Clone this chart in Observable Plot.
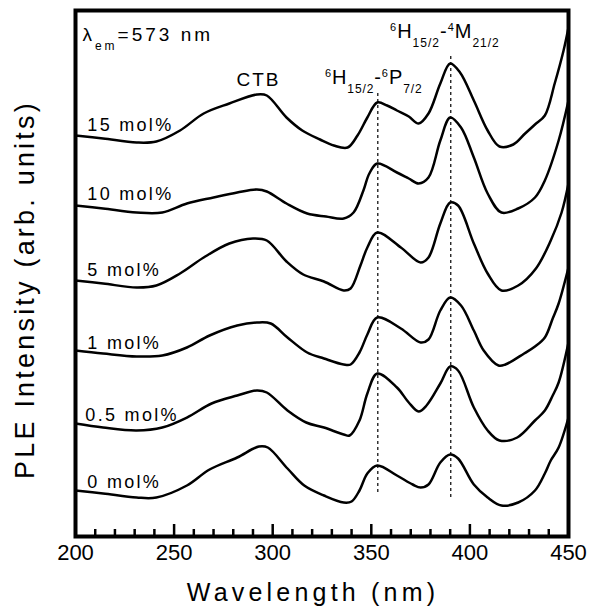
<!DOCTYPE html>
<html><head><meta charset="utf-8">
<script src="https://cdn.jsdelivr.net/npm/d3@7"></script>
<script src="https://cdn.jsdelivr.net/npm/@observablehq/plot@0.6"></script>
<style>
body{margin:0;background:#fff;}
#chart svg{display:block;}
</style></head><body><div id="chart"></div>
<script>
// Wavelength (nm) samples and PLE intensity (arb. units, offset curves)
const wl15 = [200,214,231,241,253,265,278,292,297,307,315,324,331,338,343,348,353,358,363,369,374,379,385,390,395,402,409,415,422,428,433,438,443,447.5,450];
const pl15 = [401,398,394,395,406,423,433,442,441,419,406,397,391,389,401,419,434,431,426,420,413,423,453,473,464,436,406,390,392,403,412,421,453,486,509];
const wl10 = [200,214,231,244,256.5,270,282,292,297,307,317.5,327,336,341,346,349,353,363,369,374,379,385,390,395.5,402,409,416,424.5,433,438,445,450];
const pl10 = [331,328,324,324,333,339,344,347,345,333,323,320,318,324,346,363,373,364,358,353,359,396,419,409,379,343,324,328,339,356,396,436];
const wl5 = [200,214,231,241,253,265,278,290,297,307,315.5,326,336,339.5,344.5,348,353,365,375,379,385,390,394,402,409,416,424.5,433.5,441,446.5,450];
const pl5 = [256,253,249,251,263,279,293,298,296,275,262,255,246,248,271,289,304,289,274,279,313,334,331,293,263,246,251,268,296,324,353];
const wl1 = [200,214,231,244,256.5,268,282,292,299,307.5,317.5,326,336,339.5,344,348,353,365,375,379,385,390,395.5,402,407,414.5,418,427.5,433,438,442,445,450];
const pl1 = [186,183,180,181,189,201,211,214,213,199,184,178,172,172,184,202,219,208,194,197,226,239,231,206,186,171,172,183,190,199,218,233,269];
const wl05 = [200,214,231,244,256.5,269,282,292,297,307.5,317,326,336,339,344,348,353,363,369,374,378,385,390,394,402,409,415,424,433,438,442,445,450];
const pl05 = [113,109,106,109,119,133,141,146,144,126,114,109,102,101,116,143,163,149,134,125,131,153,170,166,129,106,96,99,116,126,141,154,194];
const wl0 = [200,214,231,241,256.5,268,282,293,297.5,307.5,316,326,336,340,344,348,353,363,371,375,379,385,390,394,402,409,416,424.5,433,438,441,445,450];
const pl0 = [46,43,39,39,51,67,79,90,89,68,51,41,34,35,46,63,71,61,52,49,52,74,82,78,52,39,31,34,46,63,76,89,119];

const seriesNames = ["15 mol%","10 mol%","5 mol%","1 mol%","0.5 mol%","0 mol%"];
const seriesWl = [wl15, wl10, wl5, wl1, wl05, wl0];
const seriesPl = [pl15, pl10, pl5, pl1, pl05, pl0];
const labelX = [206,206,206,206,205,206];
const labelY = [406,337,261,188,116,49];

const xTickLabels = [200,250,300,350,400,450];
const majorTicks = [250,300,350,400];
const minorTicks = [210,220,230,240,260,270,280,290,310,320,330,340,360,370,380,390,410,420,430,440];

const transitionX = [353.3, 390.3];
const dashTop = [446, 481];
const dashBottom = [44, 39];

const annoTexts = ["λem=573 nm", "CTB", "6H15/2-6P7/2", "6H15/2-4M21/2"];
const annoX = [203.5, 292.8, 326.5, 359.5];
const annoY = [496, 451, 453, 499];
const annoAnchor = ["start","middle","start","start"];
const annoParts = [
  [["λ",""],["em","sub"],["=573 nm",""]],
  [["CTB",""]],
  [["6","sup"],["H",""],["15/2","sub"],["-",""],["6","sup"],["P",""],["7/2","sub"]],
  [["6","sup"],["H",""],["15/2","sub"],["-",""],["4","sup"],["M",""],["21/2","sub"]]
];

const xTitle = "Wavelength (nm)";
const yTitle = "PLE Intensity (arb. units)";

// table built from arrays
const rows = [];
seriesNames.forEach((s, i) => seriesWl[i].forEach((w, j) => rows.push({series: s, wl: w, pl: seriesPl[i][j]})));
const labels = seriesNames.map((s, i) => ({text: s, x: labelX[i], y: labelY[i]}));
const dashes = transitionX.map((x, i) => ({x, y1: dashBottom[i], y2: dashTop[i]}));
const annos = annoTexts.map((t, i) => ({text: t, x: annoX[i], y: annoY[i], anchor: annoAnchor[i]}));

const font = "'Liberation Sans', Arial, sans-serif";

const plot = Plot.plot({
  width: 601,
  height: 613,
  marginLeft: 75,
  marginRight: 33,
  marginTop: 10,
  marginBottom: 77,
  style: {fontFamily: font, background: "#fff", color: "#000"},
  x: {domain: [200, 450]},
  y: {domain: [0, 526], axis: null},
  marks: [
    Plot.line(rows, {x: "wl", y: "pl", z: "series", stroke: "black", strokeWidth: 2.5, curve: "catmull-rom"}),
    Plot.ruleX(dashes, {x: "x", y1: "y1", y2: "y2", stroke: "black", strokeWidth: 1.2, strokeDasharray: "3,3"}),
    Plot.tickX(majorTicks, {x: d => d, stroke: "black", strokeWidth: 2.5, insetTop: 514}),
    Plot.tickX(minorTicks, {x: d => d, stroke: "black", strokeWidth: 2.5, insetTop: 519}),
    Plot.axisX(xTickLabels, {tickSize: 0, tickPadding: 8, fontSize: 22, label: null, tickFormat: d => String(d)}),
    Plot.text(labels, {x: "x", y: "y", text: "text", textAnchor: "start", lineAnchor: "bottom", fontSize: 18, fill: "black"}),
    Plot.text(annos.filter(a => a.anchor === "start"), {x: "x", y: "y", text: "text", textAnchor: "start", lineAnchor: "bottom", fontSize: 20, fill: "black"}),
    Plot.text(annos.filter(a => a.anchor === "middle"), {x: "x", y: "y", text: "text", textAnchor: "middle", lineAnchor: "bottom", fontSize: 19, fill: "black"}),
    Plot.text([xTitle], {frameAnchor: "bottom", textAnchor: "middle", dx: -9, dy: 64, lineAnchor: "bottom", fontSize: 25, fill: "black"}),
    Plot.text([yTitle], {frameAnchor: "left", textAnchor: "middle", dx: -42, dy: 16, rotate: -90, lineAnchor: "bottom", fontSize: 27, fill: "black"}),
    Plot.frame({stroke: "black", strokeWidth: 4})
  ]
});
document.getElementById("chart").appendChild(plot);

// styling pass: letter spacing and sub/superscripts
const svg = d3.select(plot);
function findText(str) { return svg.selectAll("text").filter(function() { return this.textContent === str; }); }
seriesNames.forEach(s => findText(s).attr("letter-spacing", "2.3px"));
findText(xTitle).attr("letter-spacing", "4.2px");
findText(yTitle).attr("letter-spacing", "3.2px");
const annoSpacing = ["3px", "2px", "0.9px", "1px"];
const annoSize = [19, 19, 20, 20];
annoTexts.forEach((t, i) => {
  findText(t).each(function() {
    const sel = d3.select(this);
    sel.text(null).attr("letter-spacing", annoSpacing[i]).attr("font-size", annoSize[i]);
    let cur = 0;
    for (const [s, kind] of annoParts[i]) {
      const target = kind === "sub" ? 9 : kind === "sup" ? -7 : 0;
      const ts = sel.append("tspan").attr("dy", target - cur).text(s);
      if (kind) ts.attr("font-size", kind === "sub" ? 12 : 11);
      cur = target;
    }
  });
});
</script></body></html>
